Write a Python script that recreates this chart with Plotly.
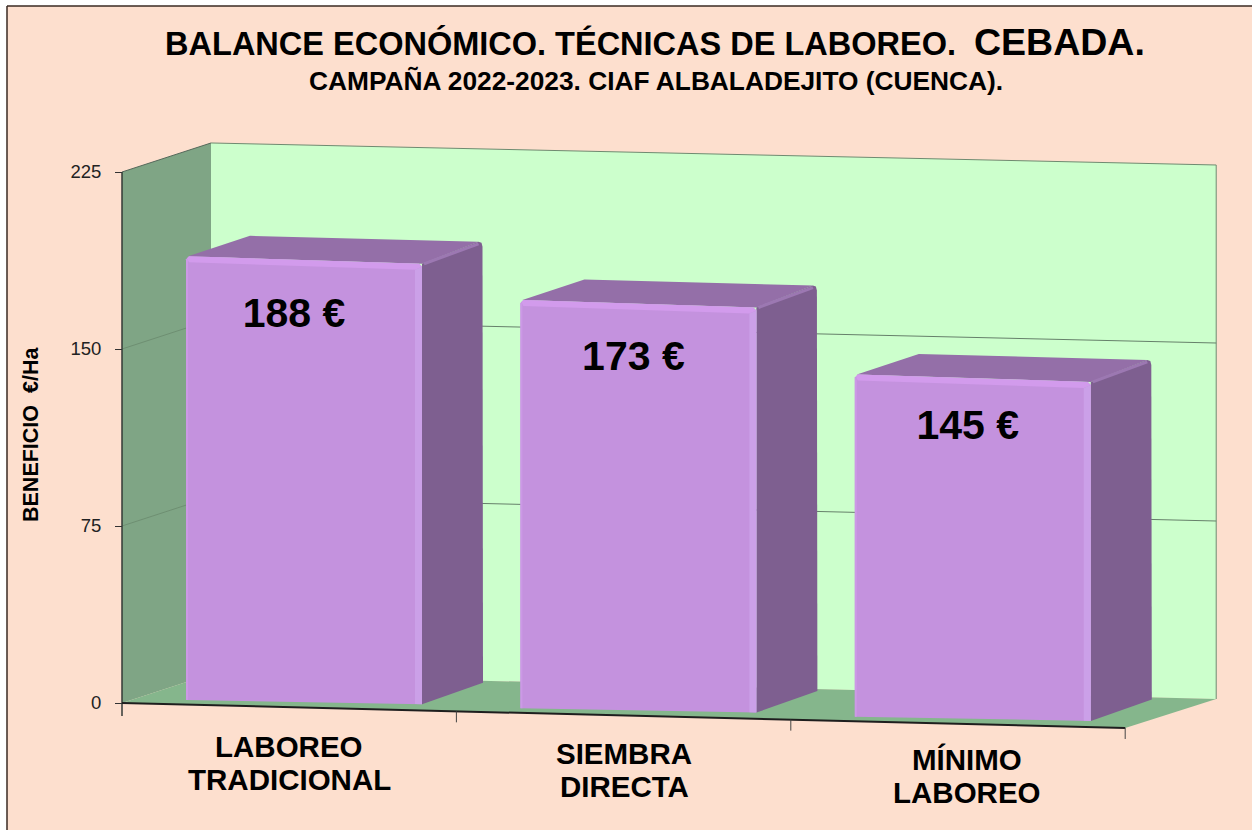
import plotly.graph_objects as go

categories = [["LABOREO", "TRADICIONAL"], ["SIEMBRA", "DIRECTA"], ["MÍNIMO", "LABOREO"]]
benefit = [188, 173, 145]
label_suffix = " €"
y_ticks = [0, 75, 150, 225]
title_main = "BALANCE ECONÓMICO. TÉCNICAS DE LABOREO."
title_crop = "CEBADA."
subtitle = "CAMPAÑA 2022-2023. CIAF ALBALADEJITO (CUENCA)."
y_title = "BENEFICIO  €/Ha"

W, H = 1252, 830
CAT_PX, VAL_PX = 334.4, 2.36     # axis scales
X0_PX, Y0_PX = 122, 703          # origin of the oblique chart frame
FONT = "Liberation Sans"

# axis units <-> the oblique frame
def ax(px):
    return (px - X0_PX) / CAT_PX - 0.5

def ay(py):
    return (Y0_PX - py) / VAL_PX

def poly(points, color, line=None, lw=1, closed=True):
    pts = list(points) + ([points[0]] if closed else [])
    return go.Scatter(
        x=[ax(p[0]) for p in pts], y=[ay(p[1]) for p in pts],
        mode="lines", hoverinfo="skip", showlegend=False,
        fill="toself" if closed else None,
        fillcolor=color if closed else None,
        line=dict(color=line or color, width=lw if line or not closed else 0),
    )

def line(points, color, lw=1):
    return poly(points, color, line=color, lw=lw, closed=False)

def val_py(v, depth=0.0, px=None):
    """Vertical position of a value on the wall frame (depth 0 = front, 1 = back)."""
    slope = 0.0249 - 0.003 * v / 225
    return Y0_PX + slope * (px - 90 * depth - X0_PX) - VAL_PX * v - 29 * depth

fig = go.Figure()
L, R = X0_PX, X0_PX + 3 * CAT_PX
BL, BR = L + 89, R + 91

# left wall, back wall and floor
fig.add_trace(poly([(BL, val_py(0, 1, BL)), (BR, val_py(0, 1, BR)), (BR, val_py(225, 1, BR)), (BL, val_py(225, 1, BL))],
                   "#CCFFCC"))
fig.add_trace(line([(BL, val_py(225, 1, BL)), (BR, val_py(225, 1, BR)), (BR, val_py(0, 1, BR))], "#6F8A70", 1))
fig.add_trace(poly([(L, val_py(0, 0, L)), (BL, val_py(0, 1, BL)), (BL, val_py(225, 1, BL)), (L, val_py(225, 0, L))],
                   "#7FA585"))
fig.add_trace(poly([(L, val_py(0, 0, L)), (R, val_py(0, 0, R)), (BR, val_py(0, 1, BR)), (BL, val_py(0, 1, BL))],
                   "#85B68C"))
# gridlines
for t in y_ticks[1:-1]:
    fig.add_trace(line([(L, val_py(t, 0, L)), (BL, val_py(t, 1, BL))], "#6E8F72", 1))
    fig.add_trace(line([(BL, val_py(t, 1, BL)), (BR, val_py(t, 1, BR))], "#66806A", 1))
# frame edges
fig.add_trace(line([(L, val_py(225, 0, L)), (BL, val_py(225, 1, BL))], "#55685A", 1))
fig.add_trace(line([(L, val_py(225, 0, L)), (L, val_py(0, 0, L) + 13)], "#333A36", 1.5))
fig.add_trace(line([(L, val_py(0, 0, L)), (R, val_py(0, 0, R))], "#1E1E1E", 2))
for i in range(1, 4):
    px = L + i * CAT_PX
    fig.add_trace(line([(px, val_py(0, 0, px)), (px, val_py(0, 0, px) + 11)], "#444444", 1))

# bars
for i, v in enumerate(benefit):
    x0 = L + i * CAT_PX + 64
    x1 = x0 + 236
    base0 = Y0_PX + 0.0249 * (x0 - L) - 4.6
    base1 = base0 + 0.018 * 236
    top0 = base0 - VAL_PX * v
    top1 = top0 + 7.5
    bl_top = (x0 + 64, top0 - 20.5)
    br_top = (x1 + 60.5, top1 - 22)
    br_bot = (x1 + 61, base1 - 21.5)
    # top face
    fig.add_trace(poly([(x0 + 2, top0), bl_top, (br_top[0] - 4, br_top[1]), (x1, top1)], "#946FA8"))
    # side face
    fig.add_trace(poly([(x1, top1), (br_top[0] - 4, br_top[1]), (br_top[0] - 1, br_top[1] + 1),
                        (br_top[0], br_top[1] + 5), br_bot, (x1, base1)], "#7E5F90"))
    fig.add_trace(line([(x1 + 2, top1), (br_top[0] - 4, br_top[1] + 2)], "#9C78B2", 3))
    # front face
    fig.add_trace(poly([(x0, top0 + 3), (x0 + 3, top0), (x1 - 3, top1), (x1, top1 + 3), (x1, base1), (x0, base0)], "#C492DE"))
    # bevels
    fig.add_trace(poly([(x0 + 1, top0 + 2), (x0 + 3, top0), (x1 - 3, top1), (x1, top1 + 3), (x1 - 7, top1 + 6), (x0 + 3, top0 + 6)], "#D29BEC"))
    fig.add_trace(poly([(x1 - 7, top1 + 6), (x1, top1 + 3), (x1, base1), (x1 - 7, base1 - 0.2)], "#CBA0E8"))
    fig.add_trace(poly([(x0, top0 + 3), (x0 + 2, top0 + 3), (x0 + 2, base0), (x0, base0)], "#CC99E6"))

# value labels
fig.add_trace(go.Scatter(
    x=[ax(L + i * CAT_PX + 172 + (0 if i == 0 else 5)) for i in range(3)],
    y=[ay(Y0_PX + 0.0249 * (i * CAT_PX + 64) - 4.6 - VAL_PX * v + (60 if i < 2 else 54)) for i, v in enumerate(benefit)],
    text=[f"{v}{label_suffix}" for v in benefit],
    mode="text", hoverinfo="skip", showlegend=False,
    textfont=dict(family=FONT, size=41, color="#000000", weight="bold"),
))

annotations = []
def note(text, px, py, size, angle=0, color="#000000"):
    annotations.append(dict(
        text=f"<b>{text}</b>", x=px / W, y=1 - py / H, xref="paper", yref="paper",
        xanchor="center", yanchor="middle", showarrow=False, textangle=angle,
        font=dict(family=FONT, size=size, color=color),
    ))

label_centers = [(289, 746), (624, 753), (967, 759)]
for lines, (cx, cy) in zip(categories, label_centers):
    for k, txt in enumerate(lines):
        note(txt, cx, cy + 33 * k, 29.5)
note(subtitle, 655.5, 81, 26.3)
note(y_title, 31, 435, 21.5, angle=-90)

fig.update_layout(
    width=W, height=H, autosize=False,
    margin=dict(l=0, r=0, t=0, b=0),
    paper_bgcolor="#FFFFFF", plot_bgcolor="rgba(0,0,0,0)",
    showlegend=False,
    title=dict(
        text=f'<b>{title_main}  <span style="font-size:37.5px">{title_crop}</span></b>',
        x=655 / W, y=1 - 44 / H, xanchor="center", yanchor="middle",
        font=dict(family=FONT, size=32.5, color="#000000"),
    ),
    annotations=annotations,
    xaxis=dict(range=[ax(0), ax(W)], visible=False, fixedrange=True),
    yaxis=dict(
        range=[ay(H), ay(0)], anchor="free", position=X0_PX / W, side="left",
        tickmode="array", tickvals=y_ticks, ticks="outside", ticklen=7, tickwidth=1,
        tickcolor="#333333", showgrid=False, zeroline=False, showline=False,
        tickfont=dict(family=FONT, size=18.5, color="#222222"), ticklabelstandoff=10,
        fixedrange=True,
    ),
    shapes=[
        dict(type="rect", xref="paper", yref="paper", x0=7 / W, x1=1, y0=0, y1=1 - 6 / H,
             fillcolor="#FDDFCE", line=dict(width=0), layer="below"),
        dict(type="line", xref="paper", yref="paper", x0=7 / W, x1=7 / W, y0=0, y1=1 - 6 / H,
             line=dict(color="#3A2A22", width=1.5), layer="above"),
        dict(type="line", xref="paper", yref="paper", x0=7 / W, x1=1, y0=1 - 6 / H, y1=1 - 6 / H,
             line=dict(color="#3A2A22", width=1.5), layer="above"),
    ],
)
fig.write_html("out.html", config={"displayModeBar": False},
               post_script="document.body.style.margin='0';")
